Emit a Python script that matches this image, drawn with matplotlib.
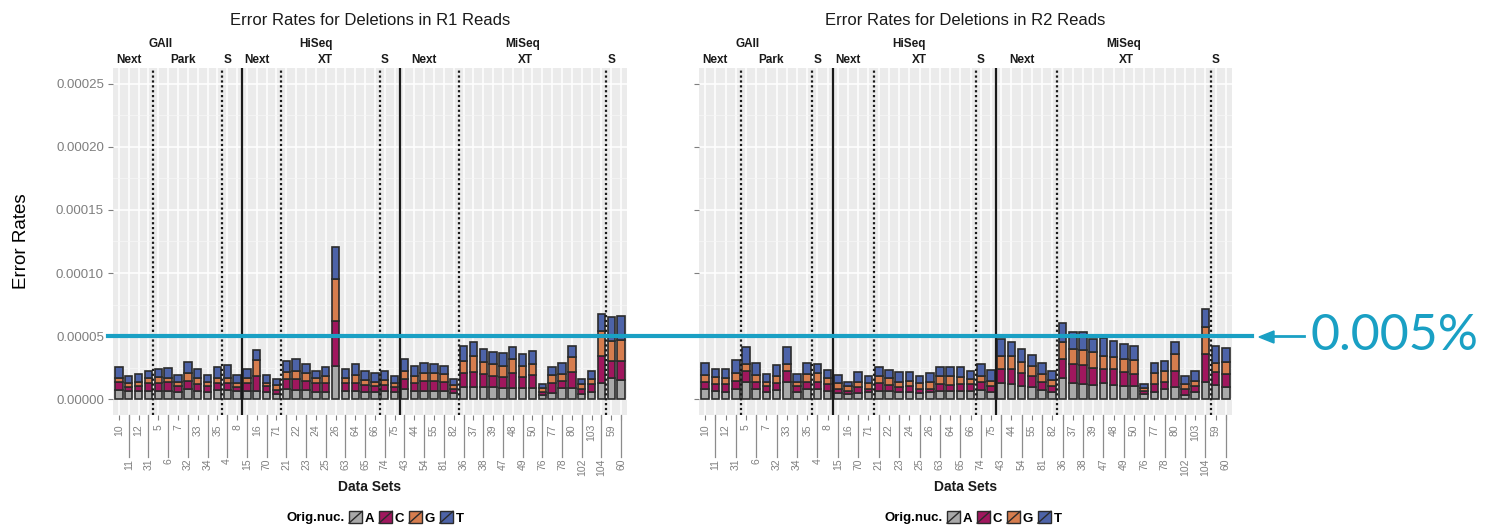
import matplotlib
matplotlib.use('Agg')
import matplotlib.pyplot as plt
import numpy as np
from matplotlib.patches import Patch, Rectangle
from matplotlib.lines import Line2D
from matplotlib.legend_handler import HandlerBase
from matplotlib.transforms import blended_transform_factory

plt.rcParams['font.family'] = ['Liberation Sans', 'DejaVu Sans']

datasets = ['10', '11', '12', '31', '5', '6', '7', '32', '33', '34', '35', '4', '8',
            '15', '16', '70', '71', '21', '22', '23', '24', '25', '26', '63', '64', '65', '66', '74', '75',
            '43', '44', '54', '55', '81', '82', '36', '37', '38', '39', '47', '48', '49', '50',
            '76', '77', '78', '80', '102', '103', '104', '59', '60']

# error rates in units of 1e-5, stacked A, C, G, T
r1_A = [.74, .66, .66, .66, .66, .66, .61, .85, .66, .61, .74, .74, .66,
        .66, .66, .61, .40, .85, .74, .74, .58, .58, 2.65, .66, .66, .61, .58, .66, .58,
        .79, .66, .66, .66, .66, .48, 1.0, .98, .93, .93, .87, .87, .87, .87,
        .32, .53, .87, .87, .40, .58, 1.27, 1.67, 1.53]
r1_C = [.63, .34, .40, .63, .63, .69, .45, .61, .53, .45, .58, .53, .34,
        .63, 1.19, .45, .34, .74, .85, .71, .69, .74, 3.57, .61, .66, .50, .48, .45, .42,
        .79, .63, .79, .79, .69, .32, 1.06, 1.19, 1.06, .95, .93, 1.19, .90, 1.06,
        .26, .74, .58, 1.27, .40, .61, 2.17, 1.38, 1.46]
r1_G = [.34, .32, .32, .40, .45, .34, .32, .61, .53, .32, .40, .45, .32,
        .40, 1.27, .26, .37, .58, .66, .61, .45, .53, 3.31, .45, .61, .42, .32, .42, .26,
        .66, .58, .66, .61, .61, .32, .98, 1.27, .93, .95, .85, 1.11, .85, .90,
        .32, .63, .53, 1.19, .40, .40, 1.98, 1.59, 1.72]
r1_T = [.87, .53, .61, .58, .66, .79, .56, .90, .66, .56, .85, .98, .58,
        .71, .79, .61, .48, .87, .93, .77, .53, .71, 2.57, .71, .85, .71, .69, .71, .58,
        .93, .79, .79, .71, .71, .48, 1.14, 1.06, 1.06, .93, 1.0, .98, .93, 1.0,
        .29, .66, .93, .87, .40, .66, 1.32, 1.90, 1.90]

r2_A = [.85, .66, .61, .79, 1.38, .85, .61, .74, 1.38, .61, .79, .79, .66,
        .53, .40, .53, .61, .66, .66, .61, .61, .53, .61, .66, .66, .66, .66, .74, .58,
        1.27, 1.19, 1.06, 1.0, .74, .61, 1.67, 1.27, 1.19, 1.14, 1.27, 1.11, 1.06, 1.06,
        .40, .61, .85, .93, .34, .61, 1.40, 1.14, 1.0]
r2_C = [.53, .53, .58, .66, .87, .53, .40, .58, .87, .40, .58, .58, .53,
        .32, .26, .40, .24, .61, .45, .32, .40, .32, .24, .53, .45, .53, .53, .63, .48,
        1.16, 1.19, 1.01, .85, .63, .45, 1.51, 1.51, 1.51, 1.30, 1.11, 1.30, 1.06, .93,
        .26, .58, .53, 1.32, .45, .40, 2.17, .98, .98]
r2_G = [.53, .61, .53, .66, .53, .53, .37, .53, .53, .37, .61, .69, .53,
        .42, .40, .45, .42, .61, .61, .45, .45, .42, .48, .66, .74, .61, .45, .48, .40,
        1.01, 1.06, .85, .79, .61, .48, 1.32, 1.19, 1.22, 1.27, 1.01, .93, 1.06, 1.14,
        .26, .87, .87, 1.32, .40, .45, 2.12, .79, .98]
r2_T = [1.0, .63, .71, .98, 1.38, 1.0, .61, .85, 1.38, .61, .87, .71, .58,
        .63, .32, .74, .58, .71, .58, .74, .66, .58, .71, .71, .71, .77, .61, .93, .85,
        1.32, 1.11, 1.06, .87, .93, .71, 1.53, 1.38, 1.43, 1.06, 1.43, 1.27, 1.19, 1.06,
        .32, .85, .79, .93, .66, .79, 1.46, 1.32, 1.08]

nucs = ['A', 'C', 'G', 'T']
nuc_colors = ['#a9a9a9', '#a0175e', '#d67d4e', '#4d63a8']

dotted_at = [3.5, 10.5, 16.5, 26.5, 34.5, 49.5]
solid_at = [12.5, 28.5]
platform_labels = [('GAII', 4.2), ('HiSeq', 20.0), ('MiSeq', 41.0)]
sub_labels = [('Next', 1.0), ('Park', 6.5), ('S', 11.0), ('Next', 14.0), ('XT', 21.0),
              ('S', 27.0), ('Next', 31.0), ('XT', 41.3), ('S', 50.0)]

W, H = 1485, 527
fig = plt.figure(figsize=(W / 100, H / 100), dpi=100)


def px_axes(x0, x1, y0, y1):
    return fig.add_axes([x0 / W, (H - y1) / H, (x1 - x0) / W, (y1 - y0) / H])


ax1 = px_axes(113, 627, 68, 415)
ax2 = px_axes(699, 1232, 68, 415)


def draw_panel(ax, series, title, show_ylabels):
    x = np.arange(len(datasets))
    ax.set_facecolor('#EBEBEB')
    for s in ax.spines.values():
        s.set_visible(False)
    bottom = np.zeros(len(datasets))
    for vals, col in zip(series, nuc_colors):
        v = np.array(vals) * 1e-5
        ax.bar(x, v, bottom=bottom, width=0.75, color=col, edgecolor='#2b2b2b',
               linewidth=1.2, zorder=2)
        bottom += v
    for xv in dotted_at:
        ax.axvline(xv, color='#1a1a1a', ls=(0, (1, 1.2)), lw=1.6, zorder=3)
    for xv in solid_at:
        ax.axvline(xv, color='#1a1a1a', lw=1.6, zorder=3)
    ax.set_xlim(-0.6, len(datasets) - 0.4)
    ax.set_ylim(-1.25e-5, 26.25e-5)
    ax.set_yticks(np.arange(0, 0.000251, 0.00005))
    ax.set_yticks(np.arange(0.000025, 0.00025, 0.00005), minor=True)
    ax.grid(True, which='major', color='white', lw=1.1, zorder=0)
    ax.grid(True, which='minor', axis='y', color='#f7f7f7', lw=0.5, zorder=0)
    ax.set_axisbelow(True)
    ax.set_xticks(x)
    ax.set_xticklabels(datasets, rotation=90, fontsize=7.5, color='#7f7f7f')
    ax.tick_params(axis='x', length=3.5, width=0.8, color='#7f7f7f', pad=3)
    ax.tick_params(axis='y', which='major', length=3.5, width=0.8, color='#7f7f7f', pad=3,
                   labelsize=9.5, labelcolor='#7f7f7f')
    ax.tick_params(axis='y', which='minor', length=0)
    ax.yaxis.set_major_formatter(plt.FuncFormatter(lambda v, p: '%.5f' % v))
    if not show_ylabels:
        ax.set_yticklabels([])
    tr = blended_transform_factory(ax.transData, ax.transAxes)
    # every second label sits on a second row, joined by a long tick
    for i, t in enumerate(ax.xaxis.get_major_ticks()):
        if i % 2 == 1:
            t.set_pad(28)
            ax.add_line(Line2D([i, i], [0, -0.122], transform=tr, clip_on=False,
                               color='#8c8c8c', lw=0.9))
    for name, xv in platform_labels:
        ax.text(xv, 1.069, name, transform=tr, ha='center', va='center', fontsize=8.5,
                fontweight='bold', color='#1a1a1a')
    for name, xv in sub_labels:
        ax.text(xv, 1.023, name, transform=tr, ha='center', va='center', fontsize=8.5,
                fontweight='bold', color='#1a1a1a')
    ax.text(0.5, 1.138, title, transform=ax.transAxes, ha='center', va='center',
            fontsize=12, color='#1a1a1a')
    ax.text(0.5, -0.2075, 'Data Sets', transform=ax.transAxes, ha='center', va='center',
            fontsize=10, fontweight='bold', color='#1a1a1a')


draw_panel(ax1, [r1_A, r1_C, r1_G, r1_T], 'Error Rates for Deletions in R1 Reads', True)
draw_panel(ax2, [r2_A, r2_C, r2_G, r2_T], 'Error Rates for Deletions in R2 Reads', False)

fig.text(22 / W, (H - 241) / H, 'Error Rates', rotation=90, ha='center', va='center',
         fontsize=13.5, color='black')


class SlashKey(HandlerBase):
    def create_artists(self, legend, orig_handle, xdescent, ydescent, width, height,
                       fontsize, trans):
        r = Rectangle((-xdescent, -ydescent), width, height,
                      facecolor=orig_handle.get_facecolor(), edgecolor='#2b2b2b',
                      lw=1.0, transform=trans)
        ln = Line2D([-xdescent, -xdescent + width], [-ydescent, -ydescent + height],
                    color='#2b2b2b', lw=1.0, transform=trans)
        return [r, ln]


handles = [Patch(facecolor=c) for c in nuc_colors]
for x_title, x_leg in [(345, 349), (943, 947)]:
    fig.text(x_title / W, (H - 518) / H, 'Orig.nuc.', ha='right', va='center',
             fontsize=9.5, fontweight='bold')
    fig.legend(handles, nucs, ncol=4, loc='center left',
               bbox_to_anchor=(x_leg / W, (H - 518) / H), frameon=False,
               handler_map={Patch: SlashKey()}, handlelength=1.0, handleheight=1.0,
               handletextpad=0.2, columnspacing=0.35, borderpad=0, borderaxespad=0,
               prop={'size': 9.5, 'weight': 'bold'})

# highlighted 0.005% threshold
blue = '#1aa0c4'
ty = blended_transform_factory(fig.transFigure, ax1.transData)
fig.add_artist(Line2D([108 / W, 1252 / W], [0.00005, 0.00005], color=blue, lw=3,
                      transform=ty, zorder=10))
fig.add_artist(Line2D([1266 / W, 1304 / W], [0.00005, 0.00005], color=blue, lw=2,
                      transform=ty, zorder=10))
fig.patches.append(plt.Polygon([[1259 / W, (H - 337) / H], [1274 / W, (H - 331) / H],
                                [1274 / W, (H - 343) / H]], closed=True, color=blue,
                               transform=fig.transFigure))
fig.text(1311 / W, 0.00005, '0.005%', transform=ty, ha='left', va='center',
         fontsize=36, color=blue, family=['Lato', 'DejaVu Sans'])

fig.savefig('out.png', dpi=100)
